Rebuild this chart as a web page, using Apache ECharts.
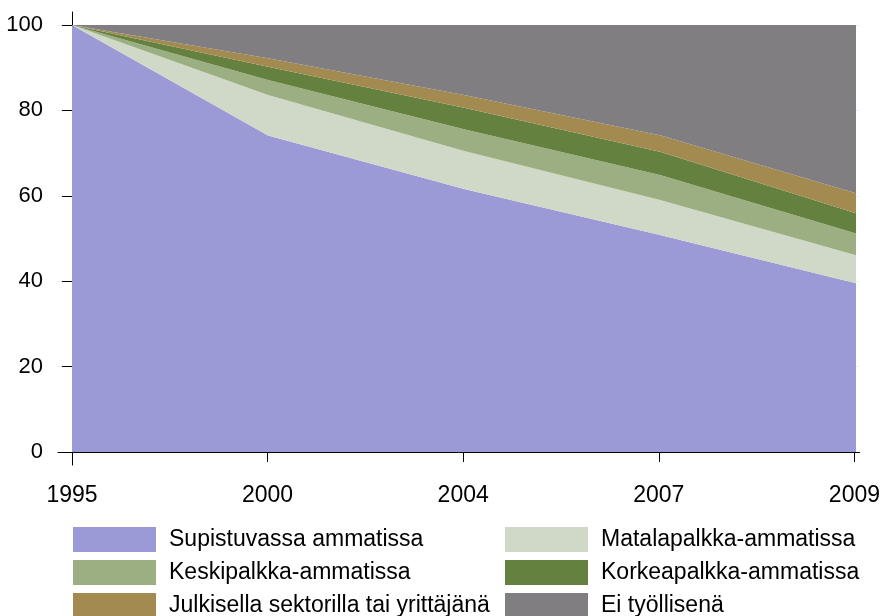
<!DOCTYPE html>
<html>
<head>
<meta charset="utf-8">
<script src="https://cdn.jsdelivr.net/npm/echarts@6/dist/echarts.min.js"></script>
<style>
  html, body { margin: 0; padding: 0; background: #fff; }
  #main { width: 883px; height: 616px; }
</style>
</head>
<body>
<div id="main"></div>
<script>
  const years = ['1995', '2000', '2004', '2007', '2009']
  const yTicks = [0, 20, 40, 60, 80, 100]

  // osuudet (%), pinottuna alhaalta ylös
  const supistuvassa = [100, 74.1, 61.6, 50.8, 39.5]
  const matalapalkka = [0, 9.5, 8.9, 8.2, 6.6]
  const keskipalkka = [0, 3.5, 5.1, 5.9, 5.1]
  const korkeapalkka = [0, 3.1, 5.0, 5.4, 4.7]
  const julkisella = [0, 2.0, 3.0, 3.9, 4.7]
  const eiTyollisena = [0, 7.8, 16.4, 25.8, 39.4]

  const names = [
    'Supistuvassa ammatissa',
    'Matalapalkka-ammatissa',
    'Keskipalkka-ammatissa',
    'Korkeapalkka-ammatissa',
    'Julkisella sektorilla tai yrittäjänä',
    'Ei työllisenä'
  ]
  const values = [supistuvassa, matalapalkka, keskipalkka, korkeapalkka, julkisella, eiTyollisena]
  const colors = ['#9b99d6', '#d0d9c7', '#9caf82', '#658140', '#a38a50', '#817e82']

  const font = 'Liberation Sans, Arial, sans-serif'

  const series = names.map(function (name, k) {
    return {
      name: name,
      type: 'line',
      stack: 'total',
      symbol: 'none',
      silent: true,
      xAxisIndex: 1,
      yAxisIndex: 1,
      lineStyle: { width: 0 },
      itemStyle: { color: colors[k] },
      areaStyle: { color: colors[k], opacity: 1 },
      data: values[k]
    }
  })

  const legendBase = {
    orient: 'vertical',
    icon: 'rect',
    itemWidth: 83,
    itemHeight: 25,
    itemGap: 8,
    padding: 0,
    height: 120,
    selectedMode: false,
    textStyle: { fontSize: 23, fontFamily: font, color: '#000', lineHeight: 25, padding: [0, 0, 0, 8] }
  }

  const myChart = echarts.init(document.getElementById('main'))
  const option = {
    backgroundColor: '#fff',
    animation: false,
    grid: [
      // akselit hieman irti kuva-alasta
      { left: 58, right: 22, top: 12, bottom: 151, containLabel: false },
      { left: 72, right: 27, top: 25, bottom: 164, containLabel: false }
    ],
    xAxis: [{
      gridIndex: 0,
      type: 'value',
      min: -0.0714,
      max: 4.026,
      axisLine: { lineStyle: { color: '#000', width: 1 } },
      axisTick: { length: 10, lineStyle: { color: '#000' }, customValues: [0, 1, 2, 3, 4] },
      axisLabel: {
        customValues: [0, 1, 2, 3, 4],
        margin: 19,
        fontSize: 23,
        fontFamily: font,
        color: '#000',
        formatter: function (v) { return years[Math.round(v)] }
      },
      splitLine: { show: false }
    }, {
      gridIndex: 1,
      type: 'category',
      boundaryGap: false,
      data: years,
      show: false
    }],
    yAxis: [{
      gridIndex: 0,
      type: 'value',
      min: -3.04,
      max: 103.04,
      axisLine: { show: true, lineStyle: { color: '#000', width: 1 } },
      axisTick: { show: true, length: 10, lineStyle: { color: '#000' }, customValues: yTicks },
      axisLabel: { customValues: yTicks, margin: 15, fontSize: 22, fontFamily: font, color: '#000' },
      splitLine: { show: true, lineStyle: { color: '#eaeef5', width: 1 } }
    }, {
      gridIndex: 1,
      type: 'value',
      min: 0,
      max: 100,
      show: false,
      splitLine: { show: false }
    }],
    legend: [
      Object.assign({}, legendBase, { left: 73, top: 527, data: [names[0], names[2], names[4]] }),
      Object.assign({}, legendBase, { left: 505, top: 527, data: [names[1], names[3], names[5]] })
    ],
    series: series
  }
  myChart.setOption(option, true)
</script>
</body>
</html>
